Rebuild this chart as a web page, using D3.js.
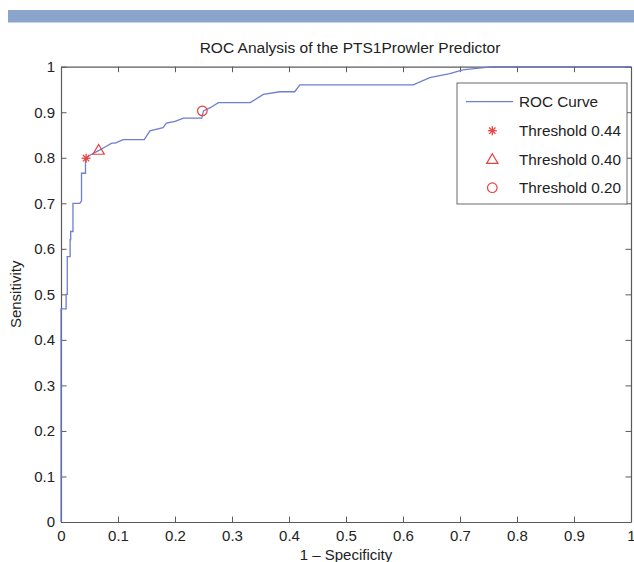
<!DOCTYPE html>
<html>
<head>
<meta charset="utf-8">
<script src="https://cdn.jsdelivr.net/npm/d3@7"></script>
<style>
  html, body { margin: 0; padding: 0; background: #fff; }
  svg { display: block; }
  text { font-family: "Liberation Sans", Arial, Helvetica, sans-serif; fill: #222; }
</style>
</head>
<body>
<div id="chart"></div>
<script>
// ---- data ----
const rocFpr = [0, 0, 0.009, 0.009, 0.011, 0.011, 0.016, 0.016, 0.017, 0.017, 0.021, 0.021, 0.033, 0.036, 0.036, 0.043, 0.043,
  0.05, 0.065, 0.075, 0.089, 0.095, 0.109, 0.146, 0.156, 0.179, 0.185, 0.2, 0.215, 0.247, 0.25, 0.262, 0.276, 0.332,
  0.355, 0.384, 0.41, 0.419, 0.618, 0.647, 0.682, 0.705, 0.758, 1];
const rocTpr = [0, 0.468, 0.468, 0.5, 0.5, 0.583, 0.583, 0.62, 0.62, 0.638, 0.638, 0.70, 0.70, 0.705, 0.766, 0.766, 0.797,
  0.805, 0.815, 0.822, 0.832, 0.832, 0.84, 0.84, 0.859, 0.866, 0.876, 0.88, 0.887, 0.887, 0.903, 0.91, 0.921, 0.921,
  0.939, 0.945, 0.945, 0.96, 0.96, 0.976, 0.985, 0.993, 1.0, 1.0];
const thresholdLabels = ["Threshold 0.44", "Threshold 0.40", "Threshold 0.20"];
const thresholdFpr = [0.044, 0.066, 0.248];
const thresholdTpr = [0.799, 0.817, 0.903];
const thresholdMarkers = ["star", "triangle", "circle"];
const xTicks = [0, 0.1, 0.2, 0.3, 0.4, 0.5, 0.6, 0.7, 0.8, 0.9, 1];
const yTicks = [0, 0.1, 0.2, 0.3, 0.4, 0.5, 0.6, 0.7, 0.8, 0.9, 1];
const titleText = "ROC Analysis of the PTS1Prowler Predictor";
const xLabel = "1 \u2013 Specificity";
const yLabel = "Sensitivity";
const curveLabel = "ROC Curve";

// ---- layout ----
const W = 634, H = 562;
const L = 61, R = 631, T = 66.7, B = 522;
const axisColor = "#5a5a5a";
const curveColor = "#6d7fcf";
const markColor = "#e8413f";
const fs = 15;

const svg = d3.select("#chart").append("svg").attr("width", W).attr("height", H);

// top banner
svg.append("rect").attr("x", 8).attr("y", 10).attr("width", W - 8).attr("height", 12.5).attr("fill", "#8aa5cc");

const x = d3.scaleLinear().domain([0, 1]).range([L, R]);
const y = d3.scaleLinear().domain([0, 1]).range([B, T]);

// axes with inward ticks
const tl = 5.5;
const fmt = d => (d === 0 || d === 1) ? String(d) : d3.format(".1f")(d);

const gx = svg.append("g").attr("transform", `translate(0,${B})`)
  .call(d3.axisBottom(x).tickValues(xTicks).tickFormat(fmt).tickSizeInner(-tl).tickSizeOuter(0).tickPadding(8.5));
const gy = svg.append("g").attr("transform", `translate(${L},0)`)
  .call(d3.axisLeft(y).tickValues(yTicks).tickFormat(fmt).tickSizeInner(-tl).tickSizeOuter(0).tickPadding(6));
const gt = svg.append("g").attr("transform", `translate(0,${T})`)
  .call(d3.axisTop(x).tickValues(xTicks).tickFormat("").tickSizeInner(-tl).tickSizeOuter(0));
const gr = svg.append("g").attr("transform", `translate(${R},0)`)
  .call(d3.axisRight(y).tickValues(yTicks).tickFormat("").tickSizeInner(-tl).tickSizeOuter(0));

[gx, gy, gt, gr].forEach(g => {
  g.selectAll(".domain").attr("stroke", axisColor).attr("stroke-width", 1.2);
  g.selectAll(".tick line").attr("stroke", axisColor).attr("stroke-width", 1);
  g.selectAll(".tick text").attr("font-size", fs).attr("fill", "#222")
    .attr("font-family", '"Liberation Sans", Arial, sans-serif');
});

// ROC curve
const rocData = rocFpr.map((v, i) => [v, rocTpr[i]]);
svg.append("path").datum(rocData)
  .attr("fill", "none").attr("stroke", curveColor).attr("stroke-width", 1.3)
  .attr("d", d3.line().x(d => x(d[0])).y(d => y(d[1])));

// marker drawing
function drawMarker(g, type, cx, cy) {
  if (type === "star") {
    const r = 4.5;
    [0, 45, 90, 135].forEach(a => {
      const rad = a * Math.PI / 180;
      g.append("line")
        .attr("x1", cx - r * Math.cos(rad)).attr("y1", cy - r * Math.sin(rad))
        .attr("x2", cx + r * Math.cos(rad)).attr("y2", cy + r * Math.sin(rad))
        .attr("stroke", markColor).attr("stroke-width", 1.3);
    });
  } else if (type === "triangle") {
    g.append("path")
      .attr("d", d3.symbol().type(d3.symbolTriangle).size(55)())
      .attr("transform", `translate(${cx},${cy + 1})`)
      .attr("fill", "none").attr("stroke", markColor).attr("stroke-width", 1.2);
  } else {
    g.append("circle").attr("cx", cx).attr("cy", cy).attr("r", 4.8)
      .attr("fill", "none").attr("stroke", markColor).attr("stroke-width", 1.2);
  }
}

const mg = svg.append("g");
thresholdFpr.forEach((v, i) => drawMarker(mg, thresholdMarkers[i], x(v), y(thresholdTpr[i])));

// legend
const lg = svg.append("g");
lg.append("rect").attr("x", 457).attr("y", 83).attr("width", 170).attr("height", 121)
  .attr("fill", "#fff").attr("stroke", "#6a6a6a").attr("stroke-width", 1);
const rowY = [101.7, 130.7, 159.2, 187.7];
lg.append("line").attr("x1", 466).attr("x2", 513).attr("y1", rowY[0]).attr("y2", rowY[0])
  .attr("stroke", curveColor).attr("stroke-width", 1.3);
lg.append("text").attr("x", 519).attr("y", rowY[0]).attr("dy", "0.35em").attr("font-size", 15.3).text(curveLabel);
thresholdLabels.forEach((t, i) => {
  drawMarker(lg, thresholdMarkers[i], 492.3, rowY[i + 1]);
  lg.append("text").attr("x", 519).attr("y", rowY[i + 1]).attr("dy", "0.35em").attr("font-size", 15.3).text(t);
});

// title and axis labels
svg.append("text").attr("x", 350).attr("y", 53).attr("text-anchor", "middle").attr("font-size", 15.5).text(titleText);
svg.append("text").attr("x", (L + R) / 2).attr("y", 559.5).attr("text-anchor", "middle").attr("font-size", fs).text(xLabel);
svg.append("text").attr("transform", `translate(21,${(T + B) / 2}) rotate(-90)`)
  .attr("text-anchor", "middle").attr("font-size", fs).text(yLabel);
</script>
</body>
</html>
